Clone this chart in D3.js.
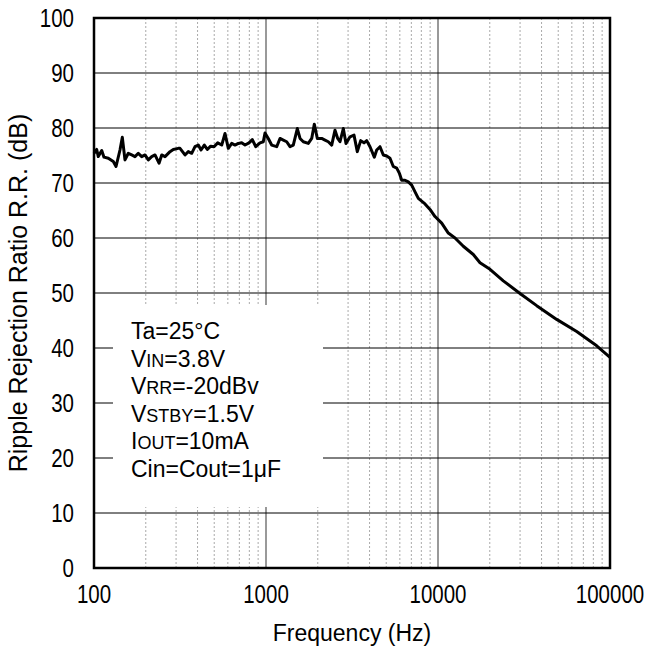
<!DOCTYPE html>
<html>
<head>
<meta charset="utf-8">
<script src="https://cdn.jsdelivr.net/npm/d3@7"></script>
<style>
  body { margin: 0; background: #fff; }
  text { font-family: "Liberation Sans", Arial, sans-serif; fill: #000; }
</style>
</head>
<body>
<div id="chart"></div>
<script>
// frequency (Hz)
var freq = [
  100, 103.7, 105.9, 110.9, 114.3, 121.1, 129.5, 134.3, 141.6, 146.1,
  151.4, 158.3, 165.6, 173.1, 180.9, 189.4, 197.9, 206.9, 216.5, 226.3,
  238.8, 247.6, 258.8, 276.6, 289.1, 309.1, 316.2, 338.1, 353.4, 369.8,
  386.6, 404.1, 419.0, 437.9, 455.8, 476.9, 498.6, 524.0, 552.7, 577.7,
  603.8, 632.0, 660.5, 690.2, 722.3, 755.0, 796.6, 832.6, 871.3, 922.8,
  964.5, 986.8, 1031, 1079, 1154, 1206, 1261, 1319, 1379, 1441,
  1521, 1577, 1648, 1762, 1844, 1909, 1988, 2108, 2203, 2302,
  2410, 2519, 2612, 2693, 2815, 2918, 3079, 3248, 3395, 3553,
  3714, 3850, 4024, 4263, 4402, 4601, 4809, 5031, 5259, 5497,
  5754, 5957, 6151, 6429, 6720, 7034, 7353, 7685, 8404, 8985,
  9608, 10508, 11478, 12559, 14032, 16044, 17547, 20064, 23971, 29974,
  37487, 48990, 64021, 83696, 100000
];
// ripple rejection ratio (dB)
var rr = [
  75.4, 76.1, 74.8, 75.9, 74.7, 74.5, 73.9, 73.0, 76.0, 78.3,
  74.2, 75.4, 75.1, 74.8, 75.4, 74.8, 75.1, 74.2, 74.8, 75.1,
  73.6, 75.1, 74.8, 75.7, 76.1, 76.3, 76.3, 75.1, 75.7, 75.4,
  76.6, 76.9, 76.0, 76.9, 76.1, 76.7, 76.6, 77.3, 76.9, 79.0,
  76.3, 77.2, 76.9, 77.2, 77.3, 76.9, 77.3, 77.9, 76.6, 77.3,
  77.5, 79.1, 78.1, 76.9, 76.6, 78.1, 77.8, 77.5, 76.6, 76.9,
  79.9, 78.1, 77.5, 77.2, 78.1, 80.7, 78.1, 78.1, 77.8, 77.5,
  76.9, 79.6, 78.1, 77.5, 79.9, 77.2, 78.4, 78.7, 75.7, 77.7,
  77.3, 77.7, 76.6, 74.7, 76.0, 76.6, 75.1, 74.9, 74.5, 73.0,
  72.7, 71.8, 70.5, 70.5, 70.2, 69.6, 68.4, 67.2, 66.2, 65.2,
  63.9, 62.7, 60.9, 60.0, 58.5, 57.0, 55.5, 54.3, 52.2, 49.9,
  47.7, 45.2, 43.0, 40.4, 38.3
];
var xTicks = [100, 1000, 10000, 100000];
var yTicks = [0, 10, 20, 30, 40, 50, 60, 70, 80, 90, 100];
// conditions box: [text, isSubscript]
var notes = [
  [["Ta=25°C", 0]],
  [["V", 0], ["IN", 1], ["=3.8V", 0]],
  [["V", 0], ["RR", 1], ["=-20dBv", 0]],
  [["V", 0], ["STBY", 1], ["=1.5V", 0]],
  [["I", 0], ["OUT", 1], ["=10mA", 0]],
  [["Cin=Cout=1μF", 0]]
];

var margin = {top: 18, right: 39, bottom: 87, left: 94},
    width = 649 - margin.left - margin.right,
    height = 655 - margin.top - margin.bottom;

var svg = d3.select("#chart").append("svg")
    .attr("width", 649)
    .attr("height", 655);
var g = svg.append("g")
    .attr("transform", "translate(" + margin.left + "," + margin.top + ")");

var x = d3.scaleLog().domain([100, 100000]).range([0, width]);
var y = d3.scaleLinear().domain([0, 100]).range([height, 0]);

// minor vertical grid (2..9 of each decade)
var minor = x.ticks().filter(function(d) { return xTicks.indexOf(d) < 0; });
g.selectAll(".minor")
    .data(minor)
    .enter().append("line")
    .attr("x1", function(d) { return x(d); })
    .attr("x2", function(d) { return x(d); })
    .attr("y1", 0).attr("y2", height)
    .attr("stroke", "#aaa")
    .attr("stroke-dasharray", "2,2")
    .attr("stroke-width", 1);

// major vertical grid
g.selectAll(".vmajor")
    .data(xTicks.slice(1, -1))
    .enter().append("line")
    .attr("x1", function(d) { return x(d); })
    .attr("x2", function(d) { return x(d); })
    .attr("y1", 0).attr("y2", height)
    .attr("stroke", "#777")
    .attr("stroke-width", 1.5);

// horizontal grid
g.selectAll(".hgrid")
    .data(yTicks.slice(1, -1))
    .enter().append("line")
    .attr("x1", 0).attr("x2", width)
    .attr("y1", function(d) { return y(d); })
    .attr("y2", function(d) { return y(d); })
    .attr("stroke", "#000")
    .attr("stroke-width", 1);

// conditions box covers the grid
g.append("rect")
    .attr("x", 19).attr("y", 287)
    .attr("width", 210).attr("height", 202)
    .attr("fill", "#fff");

notes.forEach(function(parts, i) {
    var t = g.append("text")
        .attr("x", 37)
        .attr("y", 321 + i * 27.5)
        .style("font-size", "23px");
    parts.forEach(function(p) {
        t.append("tspan")
            .style("font-size", p[1] ? "18px" : "23px")
            .text(p[0]);
    });
});

// curve
var line = d3.line()
    .x(function(d, i) { return x(freq[i]); })
    .y(function(d) { return y(d); });
g.append("path")
    .datum(rr)
    .attr("d", line)
    .attr("fill", "none")
    .attr("stroke", "#000")
    .attr("stroke-width", 3)
    .attr("stroke-linejoin", "round");

// frame
g.append("rect")
    .attr("width", width).attr("height", height)
    .attr("fill", "none")
    .attr("stroke", "#000")
    .attr("stroke-width", 2.5);

// tick labels (narrow face: squeeze horizontally)
g.selectAll(".xlab")
    .data(xTicks)
    .enter().append("text")
    .attr("transform", function(d) { return "translate(" + x(d) + "," + (height + 35) + ") scale(0.82,1)"; })
    .attr("text-anchor", "middle")
    .style("font-size", "25px")
    .text(function(d) { return d; });

g.selectAll(".ylab")
    .data(yTicks)
    .enter().append("text")
    .attr("transform", function(d) { return "translate(-20," + (y(d) + 9) + ") scale(0.82,1)"; })
    .attr("text-anchor", "end")
    .style("font-size", "25px")
    .text(function(d) { return d; });

svg.append("text")
    .attr("x", margin.left + width / 2)
    .attr("y", 641)
    .attr("text-anchor", "middle")
    .style("font-size", "23px")
    .text("Frequency (Hz)");

svg.append("text")
    .attr("transform", "translate(27," + (margin.top + height / 2) + ") rotate(-90)")
    .attr("text-anchor", "middle")
    .style("font-size", "25px")
    .text("Ripple Rejection Ratio R.R. (dB)");
</script>
</body>
</html>
